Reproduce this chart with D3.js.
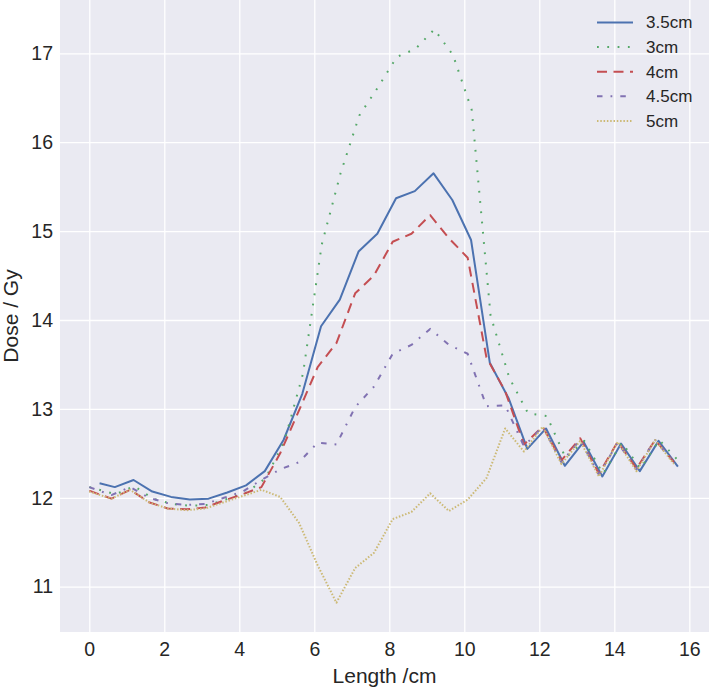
<!DOCTYPE html>
<html>
<head>
<meta charset="utf-8">
<script src="https://cdn.jsdelivr.net/npm/d3@7"></script>
<style>
  html, body { margin: 0; padding: 0; background: #ffffff; }
  svg { display: block; }
  text { font-family: "Liberation Sans", Arial, sans-serif; fill: #262626; }
</style>
</head>
<body>
<script>
// ---- data ----
const seriesNames = ["3.5cm", "3cm", "4cm", "4.5cm", "5cm"];
const lengthBlue = [0.3, 0.68, 1.18, 1.68, 2.18, 2.68, 3.18, 3.68, 4.18, 4.68, 5.18, 5.68, 6.18, 6.68, 7.18, 7.68, 8.18, 8.68, 9.18, 9.68, 10.18, 10.68, 11.18, 11.68, 12.18, 12.68, 13.18, 13.68, 14.18, 14.68, 15.18, 15.68];
const lengthGreen = [0, 0.7, 1.2, 1.7, 2.2, 2.7, 3.2, 3.7, 4.2, 4.7, 5.2, 5.7, 6.2, 6.7, 7.2, 7.7, 8.2, 8.7, 9.2, 9.7, 10.2, 10.7, 11.2, 11.7, 12.2, 12.7, 13.2, 13.7, 14.2, 14.7, 15.2, 15.7];
const lengthOther = [0, 0.59, 1.09, 1.59, 2.09, 2.59, 3.09, 3.59, 4.09, 4.59, 5.09, 5.59, 6.09, 6.59, 7.09, 7.59, 8.09, 8.59, 9.09, 9.59, 10.09, 10.59, 11.09, 11.59, 12.09, 12.59, 13.09, 13.59, 14.09, 14.59, 15.09, 15.59];

const dose35 = [12.16, 12.12, 12.20, 12.07, 12.01, 11.98, 11.99, 12.06, 12.14, 12.30, 12.65, 13.17, 13.93, 14.23, 14.77, 14.97, 15.37, 15.45, 15.65, 15.35, 14.90, 13.52, 13.12, 12.55, 12.78, 12.36, 12.63, 12.24, 12.61, 12.30, 12.64, 12.36];
const dose3 = [12.12, 12.04, 12.13, 11.99, 11.93, 11.91, 11.92, 11.99, 12.06, 12.22, 12.63, 13.40, 14.85, 15.65, 16.30, 16.62, 16.96, 17.05, 17.27, 16.98, 16.36, 14.05, 13.35, 12.95, 12.92, 12.45, 12.64, 12.27, 12.62, 12.33, 12.65, 12.42];
const dose4 = [12.08, 11.99, 12.09, 11.95, 11.88, 11.87, 11.89, 11.97, 12.04, 12.12, 12.50, 12.98, 13.47, 13.74, 14.30, 14.50, 14.88, 14.97, 15.18, 14.92, 14.70, 13.58, 13.20, 12.60, 12.80, 12.42, 12.67, 12.27, 12.63, 12.33, 12.65, 12.40];
const dose45 = [12.12, 12.03, 12.12, 12.00, 11.94, 11.92, 11.93, 12.00, 12.07, 12.20, 12.32, 12.40, 12.62, 12.60, 13.02, 13.25, 13.62, 13.72, 13.90, 13.72, 13.62, 13.03, 13.04, 12.58, 12.80, 12.40, 12.65, 12.26, 12.62, 12.32, 12.65, 12.40];
const dose5 = [12.07, 11.99, 12.09, 11.95, 11.88, 11.86, 11.88, 11.95, 12.02, 12.09, 12.01, 11.72, 11.24, 10.82, 11.21, 11.38, 11.76, 11.84, 12.05, 11.85, 11.98, 12.22, 12.78, 12.52, 12.80, 12.38, 12.64, 12.24, 12.63, 12.30, 12.65, 12.38];

const xTicks = [0, 2, 4, 6, 8, 10, 12, 14, 16];
const yTicks = [11, 12, 13, 14, 15, 16, 17];

const colors = ["#4C72B0", "#55A868", "#C44E52", "#8172B2", "#CCB974"];
const dashes = [null, "1.8 8.5", "10 6.5", "5.5 8 1.8 8", "1.5 1.8"];

const series = [
  { name: seriesNames[0], x: lengthBlue, y: dose35 },
  { name: seriesNames[1], x: lengthGreen, y: dose3 },
  { name: seriesNames[2], x: lengthOther, y: dose4 },
  { name: seriesNames[3], x: lengthOther, y: dose45 },
  { name: seriesNames[4], x: lengthOther, y: dose5 }
];

// ---- layout ----
const W = 709, H = 688;
const plot = { left: 60, right: 709, top: 0, bottom: 632 };

const x = d3.scaleLinear().domain([-0.781, 16.525]).range([plot.left, plot.right]);
const y = d3.scaleLinear().domain([10.49, 17.6]).range([plot.bottom, plot.top]);

const svg = d3.select("body").append("svg").attr("width", W).attr("height", H);

svg.append("rect")
  .attr("x", plot.left).attr("y", plot.top)
  .attr("width", plot.right - plot.left).attr("height", plot.bottom - plot.top)
  .attr("fill", "#EAEAF2");

// grid via axes
const gx = svg.append("g").attr("transform", `translate(0,${plot.bottom})`)
  .call(d3.axisBottom(x).tickValues(xTicks).tickSize(-(plot.bottom - plot.top)).tickPadding(7).tickFormat(d3.format("d")));
const gy = svg.append("g").attr("transform", `translate(${plot.left},0)`)
  .call(d3.axisLeft(y).tickValues(yTicks).tickSize(-(plot.right - plot.left)).tickPadding(7).tickFormat(d3.format("d")));

[gx, gy].forEach(g => {
  g.select(".domain").remove();
  g.selectAll(".tick line").attr("stroke", "#ffffff").attr("stroke-width", 1.3);
  g.selectAll(".tick text").attr("fill", "#262626").style("font-size", "19.5px")
    .style("font-family", "'Liberation Sans', Arial, sans-serif");
});
gx.selectAll(".tick text").attr("dy", "0.85em");

// lines
const clip = svg.append("clipPath").attr("id", "clip").append("rect")
  .attr("x", plot.left).attr("y", plot.top)
  .attr("width", plot.right - plot.left).attr("height", plot.bottom - plot.top);

const line = d3.line().x(d => x(d[0])).y(d => y(d[1]));
const lines = svg.append("g").attr("clip-path", "url(#clip)");
series.forEach((s, i) => {
  const pts = s.x.map((v, j) => [v, s.y[j]]);
  lines.append("path")
    .attr("d", line(pts))
    .attr("fill", "none")
    .attr("stroke", colors[i])
    .attr("stroke-width", 2)
    .attr("stroke-linejoin", "round")
    .attr("stroke-linecap", i === 0 ? "square" : "butt")
    .attr("stroke-dasharray", dashes[i]);
});

// legend
const leg = svg.append("g");
series.forEach((s, i) => {
  const yy = 22.5 + i * 24.6;
  leg.append("line")
    .attr("x1", 597).attr("x2", 633).attr("y1", yy).attr("y2", yy)
    .attr("stroke", colors[i]).attr("stroke-width", 2)
    .attr("stroke-dasharray", dashes[i]);
  leg.append("text")
    .attr("x", 646).attr("y", yy).attr("dy", "0.35em")
    .style("font-size", "17px")
    .text(s.name);
});

// axis labels
svg.append("text")
  .attr("x", (plot.left + plot.right) / 2).attr("y", 683)
  .attr("text-anchor", "middle")
  .style("font-size", "21px")
  .text("Length /cm");

svg.append("text")
  .attr("transform", `translate(18,${(plot.top + plot.bottom) / 2}) rotate(-90)`)
  .attr("text-anchor", "middle")
  .style("font-size", "21px")
  .text("Dose / Gy");
</script>
</body>
</html>
